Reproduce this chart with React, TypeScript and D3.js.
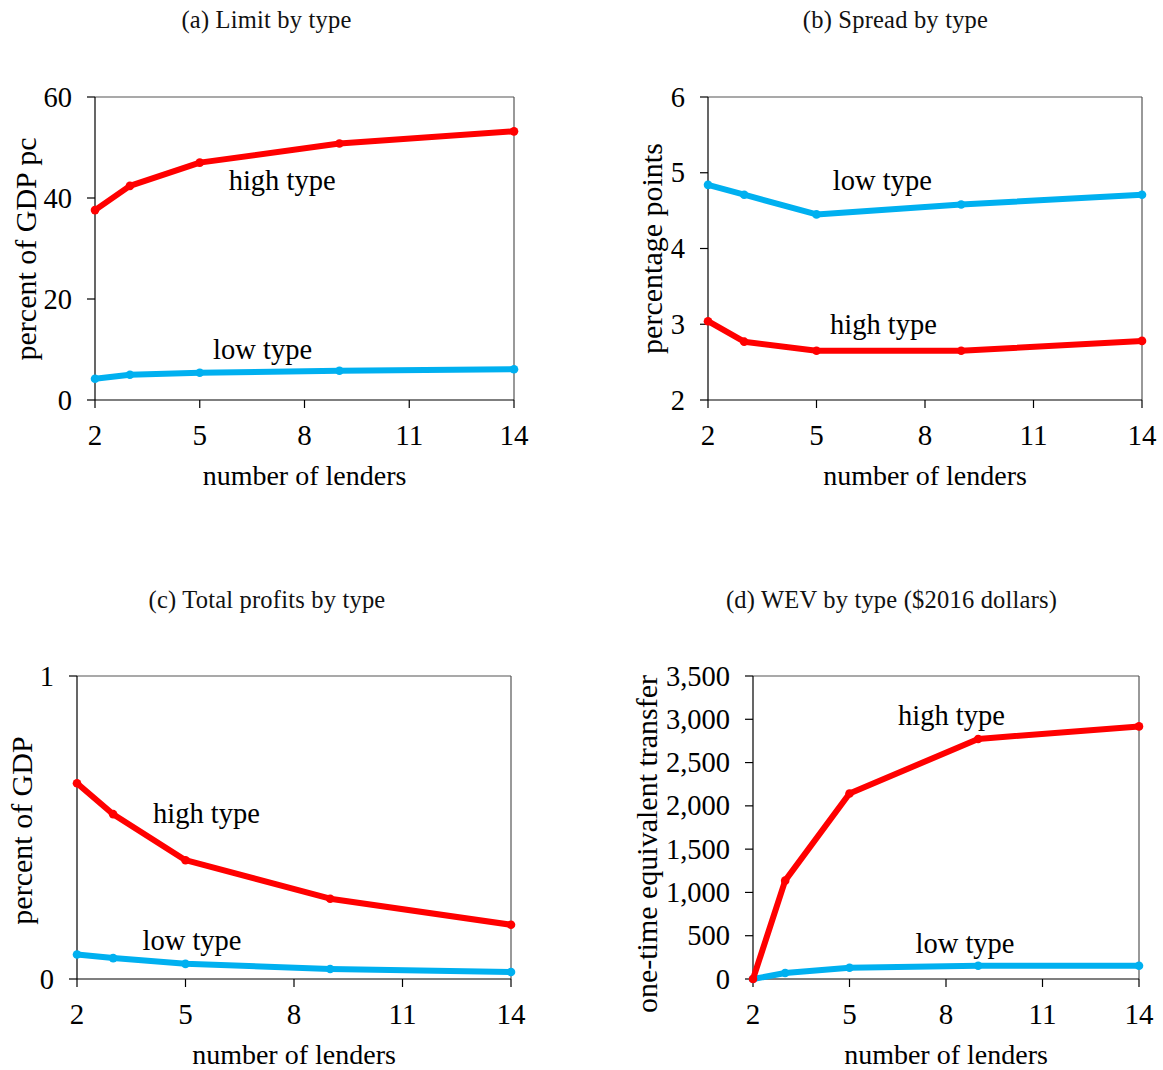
import React from "react";
import * as d3 from "d3";

const lenders = [2, 3, 5, 9, 14];
const xTicks = [2, 5, 8, 11, 14];

const limitHigh = [37.6, 42.4, 47.0, 50.8, 53.2];
const limitLow = [4.2, 5.0, 5.4, 5.8, 6.1];
const limitTicks = [0, 20, 40, 60];

const spreadLow = [4.84, 4.71, 4.45, 4.58, 4.71];
const spreadHigh = [3.04, 2.77, 2.65, 2.65, 2.78];
const spreadTicks = [2, 3, 4, 5, 6];

const profitHigh = [0.646, 0.544, 0.392, 0.265, 0.179];
const profitLow = [0.081, 0.069, 0.05, 0.033, 0.023];
const profitTicks = [0, 1];

const wevHigh = [0, 1136, 2142, 2773, 2918];
const wevLow = [0, 69, 130, 153, 153];
const wevTicks = [0, 500, 1000, 1500, 2000, 2500, 3000, 3500];

const RED = "#FF0000";
const BLUE = "#00B0F0";
const SERIF = "'Liberation Serif', 'Times New Roman', serif";

type Panel = {
  title: string;
  yLabel: string;
  high: number[];
  low: number[];
  yTicks: number[];
  fmt: (v: number) => string;
  box: { l: number; r: number; t: number; b: number };
  titlePos: [number, number];
  yLabelPos: [number, number];
  highLabel: [number, number];
  lowLabel: [number, number];
};

const panels: Panel[] = [
  {
    title: "(a) Limit by type",
    yLabel: "percent of GDP pc",
    high: limitHigh,
    low: limitLow,
    yTicks: limitTicks,
    fmt: d3.format("d"),
    box: { l: 95, r: 514, t: 97, b: 400 },
    titlePos: [266.5, 28],
    yLabelPos: [36, 249],
    highLabel: [7.36, 41.6],
    lowLabel: [6.8, 8.1],
  },
  {
    title: "(b) Spread by type",
    yLabel: "percentage points",
    high: spreadHigh,
    low: spreadLow,
    yTicks: spreadTicks,
    fmt: d3.format("d"),
    box: { l: 708, r: 1142, t: 97, b: 400 },
    titlePos: [895.5, 28],
    yLabelPos: [662, 248.5],
    highLabel: [6.85, 2.87],
    lowLabel: [6.82, 4.77],
  },
  {
    title: "(c) Total profits by type",
    yLabel: "percent of GDP",
    high: profitHigh,
    low: profitLow,
    yTicks: profitTicks,
    fmt: d3.format("d"),
    box: { l: 77, r: 511, t: 676, b: 979 },
    titlePos: [267, 608],
    yLabelPos: [32, 830.5],
    highLabel: [5.58, 0.515],
    lowLabel: [5.18, 0.096],
  },
  {
    title: "(d) WEV by type ($2016 dollars)",
    yLabel: "one-time equivalent transfer",
    high: wevHigh,
    low: wevLow,
    yTicks: wevTicks,
    fmt: d3.format(","),
    box: { l: 753, r: 1139, t: 676, b: 979 },
    titlePos: [891.5, 608],
    yLabelPos: [657, 844],
    highLabel: [8.17, 2934],
    lowLabel: [8.59, 300],
  },
];

function PanelView({ p }: { p: Panel }) {
  const { l, r, t, b } = p.box;
  const x = d3.scaleLinear().domain([2, 14]).range([l, r]);
  const y = d3
    .scaleLinear()
    .domain([p.yTicks[0], p.yTicks[p.yTicks.length - 1]])
    .range([b, t]);
  const line = d3
    .line<number>()
    .x((_, i) => x(lenders[i]))
    .y((v) => y(v));
  const series = [
    { vals: p.low, color: BLUE },
    { vals: p.high, color: RED },
  ];
  return (
    <g>
      <text
        x={p.titlePos[0]}
        y={p.titlePos[1]}
        textAnchor="middle"
        fontFamily={SERIF}
        fontSize={24.5}
        letterSpacing={0.2}
        fill="#111"
      >
        {p.title}
      </text>
      <line x1={l} x2={r} y1={t} y2={t} stroke="#555" strokeWidth={1.2} />
      <line x1={r} x2={r} y1={t} y2={b} stroke="#555" strokeWidth={1.2} />
      <line x1={l} x2={l} y1={t} y2={b} stroke="#000" strokeWidth={1.2} />
      <line x1={l} x2={r} y1={b} y2={b} stroke="#000" strokeWidth={1.2} />
      {p.yTicks.map((v) => (
        <g key={"y" + v}>
          <line x1={l - 8} x2={l} y1={y(v)} y2={y(v)} stroke="#000" strokeWidth={1.2} />
          <text
            x={l - 23}
            y={y(v) + 9.5}
            textAnchor="end"
            fontFamily={SERIF}
            fontSize={28.5}
            fill="#000"
          >
            {p.fmt(v)}
          </text>
        </g>
      ))}
      {xTicks.map((v) => (
        <g key={"x" + v}>
          <line x1={x(v)} x2={x(v)} y1={b} y2={b + 8} stroke="#000" strokeWidth={1.2} />
          <text
            x={x(v)}
            y={b + 45}
            textAnchor="middle"
            fontFamily={SERIF}
            fontSize={29}
            fill="#000"
          >
            {v}
          </text>
        </g>
      ))}
      <text
        x={(l + r) / 2}
        y={b + 85}
        textAnchor="middle"
        fontFamily={SERIF}
        fontSize={28}
        fill="#000"
      >
        number of lenders
      </text>
      <text
        transform={`translate(${p.yLabelPos[0]},${p.yLabelPos[1]}) rotate(-90)`}
        textAnchor="middle"
        fontFamily={SERIF}
        fontSize={30}
        fill="#000"
      >
        {p.yLabel}
      </text>
      {series.map((s, si) => (
        <g key={"s" + si}>
          <path
            d={line(s.vals) || ""}
            fill="none"
            stroke={s.color}
            strokeWidth={6}
            strokeLinejoin="round"
          />
          {s.vals.map((v, i) => (
            <circle key={i} cx={x(lenders[i])} cy={y(v)} r={4.3} fill={s.color} />
          ))}
        </g>
      ))}
      <text
        x={x(p.highLabel[0])}
        y={y(p.highLabel[1])}
        textAnchor="middle"
        fontFamily={SERIF}
        fontSize={28.5}
        fill="#000"
      >
        high type
      </text>
      <text
        x={x(p.lowLabel[0])}
        y={y(p.lowLabel[1])}
        textAnchor="middle"
        fontFamily={SERIF}
        fontSize={28.5}
        fill="#000"
      >
        low type
      </text>
    </g>
  );
}

export default function App() {
  return (
    <svg
      width={1163}
      height={1070}
      style={{ position: "absolute", left: 0, top: 0, background: "#fff" }}
    >
      <rect width={1163} height={1070} fill="#fff" />
      {panels.map((p, i) => (
        <PanelView key={i} p={p} />
      ))}
    </svg>
  );
}
